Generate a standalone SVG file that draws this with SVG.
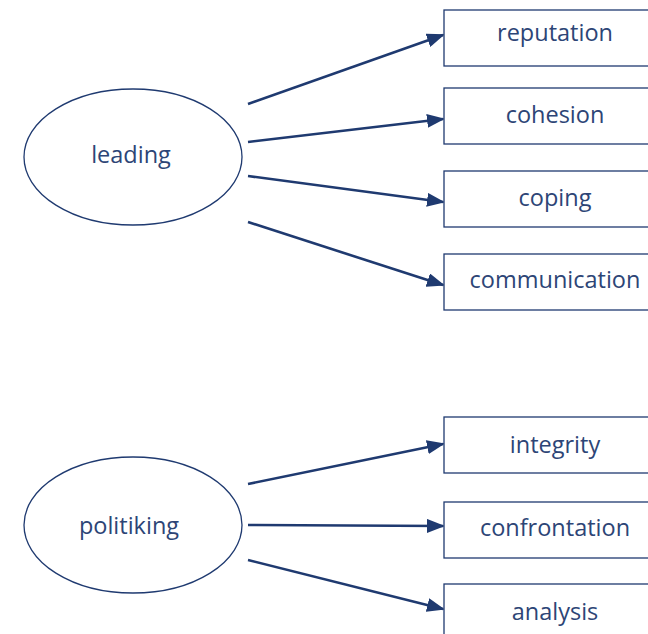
<svg xmlns="http://www.w3.org/2000/svg" width="648" height="634" viewBox="0 0 648 634">
<style>
.n{fill:#fff;stroke:#1f3a70;stroke-width:1.3}
.t{font-family:"Open Sans","Noto Sans",sans-serif;font-size:23.5px;fill:#2d4576;text-anchor:middle;dominant-baseline:central}
.c{stroke:#1f3a70;stroke-width:2.6;fill:none;marker-end:url(#ah)}
</style>
<defs>
<marker id="ah" markerUnits="userSpaceOnUse" markerWidth="18" markerHeight="14" refX="16" refY="7" orient="auto" viewBox="0 0 18 14">
<path d="M0,0 L18,7 L0,14 z" fill="#1f3a70"/>
</marker>
</defs>
<rect width="648" height="634" fill="#fff"/>
<g id="connectors">
<line class="c" x1="248" y1="104" x2="443" y2="35"/>
<line class="c" x1="248" y1="142" x2="443" y2="119"/>
<line class="c" x1="248" y1="176" x2="443" y2="202"/>
<line class="c" x1="248" y1="222" x2="443" y2="285"/>
<line class="c" x1="248" y1="484" x2="443" y2="444"/>
<line class="c" x1="248" y1="525" x2="443" y2="526"/>
<line class="c" x1="248" y1="560" x2="443" y2="609"/>
</g>
<g id="leading"><ellipse class="n" cx="133" cy="157" rx="109" ry="68"/><text class="t" x="131" y="154">leading</text></g>
<g id="politiking"><ellipse class="n" cx="133" cy="525" rx="109" ry="68"/><text class="t" x="129" y="525">politiking</text></g>
<g id="reputation"><rect class="n" x="444" y="10" width="210" height="56"/><text class="t" x="555" y="32">reputation</text></g>
<g id="cohesion"><rect class="n" x="444" y="88" width="210" height="56"/><text class="t" x="555" y="114">cohesion</text></g>
<g id="coping"><rect class="n" x="444" y="171" width="210" height="56"/><text class="t" x="555" y="197">coping</text></g>
<g id="communication"><rect class="n" x="444" y="254" width="210" height="56"/><text class="t" x="555" y="279">communication</text></g>
<g id="integrity"><rect class="n" x="444" y="417" width="210" height="56"/><text class="t" x="555" y="444">integrity</text></g>
<g id="confrontation"><rect class="n" x="444" y="502" width="210" height="56"/><text class="t" x="555" y="527">confrontation</text></g>
<g id="analysis"><rect class="n" x="444" y="584" width="210" height="56"/><text class="t" x="555" y="611">analysis</text></g>
</svg>
